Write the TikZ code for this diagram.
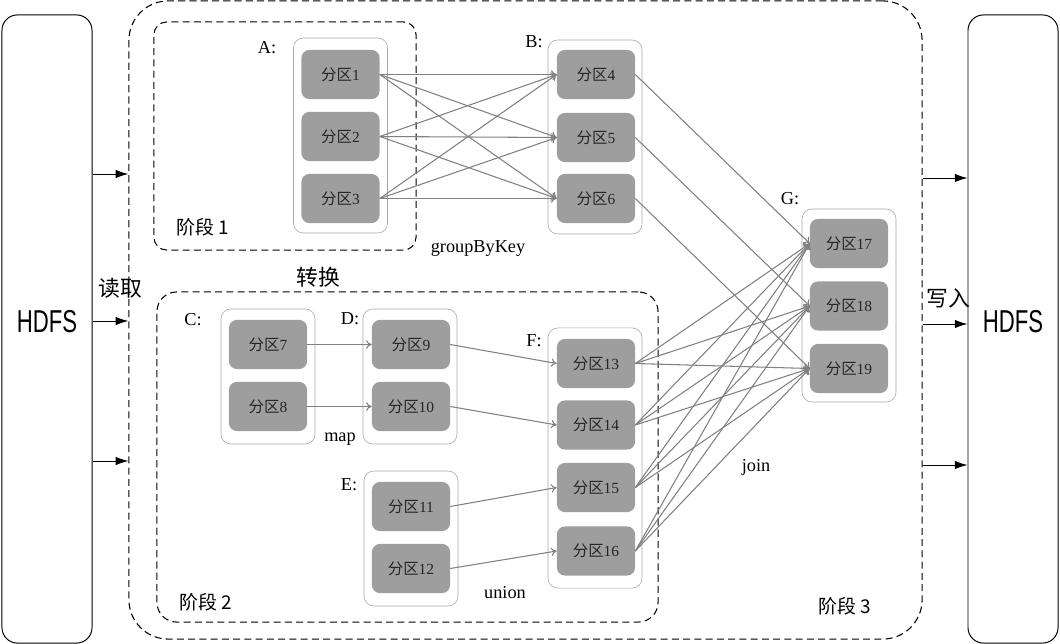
\documentclass[tikz,border=0pt]{standalone}
\usepackage{fontspec}
\setmainfont{Liberation Serif}
\newfontfamily\cjk{Noto Sans CJK SC}
\newfontfamily\hdfsfont[FakeStretch=0.7]{Liberation Sans}
\usetikzlibrary{positioning}
\usetikzlibrary{arrows,arrows.meta}
\colorlet{partfillc}{black!38}
\colorlet{parttextc}{black!85}
\colorlet{edgec}{black!50}
\colorlet{contc}{black!35}
\newcommand\fq[1]{{\cjk 分区}#1}

\tikzset{
  part/.style={fill=partfillc, text=parttextc, rounded corners=5.5pt, minimum width=1.95cm, minimum height=1.225cm, inner sep=0pt, font=\fontsize{11}{12}\selectfont},
  cont/.style={draw=contc, rounded corners=7pt, minimum width=2.35cm, inner sep=0pt},
  stagebox/.style={draw, line width=0.75pt, dash pattern=on 5pt off 3pt, inner sep=0pt},
  hdfsbox/.style={draw, line width=0.7pt, rounded corners=11pt, minimum width=2.25cm, minimum height=15.7cm, inner sep=0pt},
  edge/.style={draw=edgec, line width=0.75pt, -{To[length=4pt,width=6pt]}},
  io/.style={line width=0.7pt, -{Latex[length=9pt,width=6pt]}},
  lab/.style={font=\fontsize{13}{15}\selectfont},
  stagelab/.style={font=\cjk\fontsize{13.5}{15}\selectfont},
}

\begin{document}
\begin{tikzpicture}[x=0.025cm, y=-0.025cm]
\useasboundingbox (0,0) rectangle (1060,644);

% HDFS and stage frames
\node[hdfsbox] (hdfsL) at (47,329) {};
\node[hdfsbox] (hdfsR) at (1013,329) {};
\node[font=\hdfsfont\fontsize{22.5}{24}\selectfont] (hdfsLt) at (47,322) {HDFS};
\node[font=\hdfsfont\fontsize{22.5}{24}\selectfont] (hdfsRt) at (1013,322) {HDFS};
\node[stagebox, rounded corners=28pt, minimum width=19.825cm, minimum height=15.95cm] (stage3) at (525.5,320) {};
\node[stagebox, rounded corners=9pt, minimum width=6.55cm, minimum height=5.7cm] (stage1) at (285,136) {};
\node[stagebox, rounded corners=14pt, minimum width=12.525cm, minimum height=8.25cm] (stage2) at (407.5,457) {};

% containers
\node[cont, minimum height=4.875cm] (contA) at (340.5,135.5) {};
\node[cont, minimum height=4.85cm] (contB) at (595,137) {};
\node[cont, minimum height=4.825cm] (contG) at (849,305.5) {};
\node[cont, minimum height=3.375cm] (contC) at (268,376.5) {};
\node[cont, minimum height=3.375cm] (contD) at (410,376.5) {};
\node[cont, minimum height=3.375cm] (contE) at (411,538.5) {};
\node[cont, minimum height=6.5cm] (contF) at (595,458) {};

% partitions
\node[part] (p1) at (340.5,74.5) {\fq{1}};
\node[part] (p2) at (340.5,136.5) {\fq{2}};
\node[part] (p3) at (340.5,198.5) {\fq{3}};
\node[part] (p4) at (596,74.5) {\fq{4}};
\node[part] (p5) at (596,137.5) {\fq{5}};
\node[part] (p6) at (596,198.5) {\fq{6}};
\node[part] (p7) at (268,344.5) {\fq{7}};
\node[part] (p8) at (268,406.5) {\fq{8}};
\node[part] (p9) at (411,344.5) {\fq{9}};
\node[part] (p10) at (411,406.5) {\fq{10}};
\node[part] (p11) at (411,506.5) {\fq{11}};
\node[part] (p12) at (411,568.5) {\fq{12}};
\node[part] (p13) at (596,363.5) {\fq{13}};
\node[part] (p14) at (596,425) {\fq{14}};
\node[part] (p15) at (596,487.5) {\fq{15}};
\node[part] (p16) at (596,551) {\fq{16}};
\node[part] (p17) at (849,243.5) {\fq{17}};
\node[part] (p18) at (849,306) {\fq{18}};
\node[part] (p19) at (849,368.5) {\fq{19}};

% labels
\node[lab] (labA) at (267,48) {A:};
\node[lab] (labB) at (534,42) {B:};
\node[lab] (labC) at (193,320) {C:};
\node[lab] (labD) at (350,319) {D:};
\node[lab] (labE) at (349,485) {E:};
\node[lab] (labF) at (534,341) {F:};
\node[lab] (labG) at (790,199) {G:};
\node[lab] (opGroup) at (478,248) {groupByKey};
\node[lab] (opMap) at (340,439) {map};
\node[lab] (opUnion) at (505,593) {union};
\node[lab] (opJoin) at (756,467) {join};
\node[stagelab] (st1) at (203,227) {阶段 1};
\node[stagelab] (st2) at (206,602) {阶段 2};
\node[stagelab] (st3) at (845,606) {阶段 3};
\node[font=\cjk\fontsize{15.5}{17}\selectfont] (trans) at (318,277) {转换};
\node[font=\cjk\fontsize{15.5}{17}\selectfont] (readL) at (120,288) {读取};
\node[font=\cjk\fontsize{15.5}{17}\selectfont] (writeL) at (948,298) {写入};

% read / write arrows
\foreach \y in {174,321,461}
  \draw[io] (hdfsL.east |- 0,\y) -- (stage3.west |- 0,\y);
\foreach \y in {178,324,465}
  \draw[io] (stage3.east |- 0,\y) -- (hdfsR.west |- 0,\y);

% edges
\foreach \s in {1,2,3}
  \foreach \t in {4,5,6}
    \draw[edge] (p\s.east) -- (p\t.west);
\draw[edge] (p4.east) -- (p17.west);
\draw[edge] (p5.east) -- (p18.west);
\draw[edge] (p6.east) -- (p19.west);
\draw[edge] (p7.east) -- (p9.west);
\draw[edge] (p8.east) -- (p10.west);
\draw[edge] (p9.east) -- (p13.west);
\draw[edge] (p10.east) -- (p14.west);
\draw[edge] (p11.east) -- (p15.west);
\draw[edge] (p12.east) -- (p16.west);
\foreach \s in {13,...,16}
  \foreach \t in {17,18,19}
    \draw[edge] (p\s.east) -- (p\t.west);
\end{tikzpicture}
\end{document}
